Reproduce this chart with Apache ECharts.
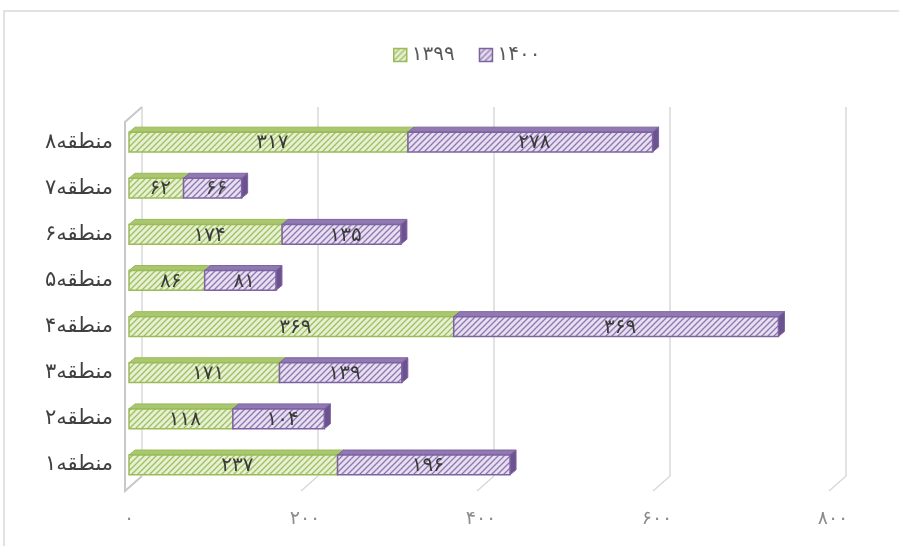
<!DOCTYPE html>
<html><head><meta charset="utf-8">
<script src="https://cdn.jsdelivr.net/npm/echarts@6/dist/echarts.min.js"></script>
<style>html,body{margin:0;padding:0;background:#fff}#c{width:899px;height:546px}</style>
</head><body><div id="c"></div>
<script>
const categories = ['منطقه۱','منطقه۲','منطقه۳','منطقه۴','منطقه۵','منطقه۶','منطقه۷','منطقه۸'];
const seriesNames = ['۱۳۹۹','۱۴۰۰'];
const values1399 = [237,118,171,369,86,174,62,317];
const values1400 = [196,104,139,369,81,135,66,278];
const axisMin = 0, axisMax = 800, axisInterval = 200;
const gridTicks = [0,200,400,600,800];

function fa(n){return String(n).replace(/\d/g,d=>'۰۱۲۳۴۵۶۷۸۹'[d]);}
function hatch(bg, line){
  const c=document.createElement('canvas'); c.width=6; c.height=6;
  const g=c.getContext('2d'); g.fillStyle=bg; g.fillRect(0,0,6,6);
  g.strokeStyle=line; g.lineWidth=1.3; g.beginPath();
  g.moveTo(-1,7); g.lineTo(7,-1); g.moveTo(-1,1); g.lineTo(1,-1); g.moveTo(5,7); g.lineTo(7,5);
  g.stroke(); return c;
}
const green = {pattern:hatch('#e6f0d2','#a0bf62'), border:'#9bbb59', top:'#a9c76f', side:'#86a54a'};
const purple = {pattern:hatch('#e6dff0','#8f76b2'), border:'#7e63a1', top:'#9078b2', side:'#6c528f'};

const DX=6, DY=5, BACKX=13, BACKY=12;

function makeBar(theme){
  return function(params, api){
    const s=api.value(0), e=api.value(1), i=api.value(2);
    const p0=api.coord([s,i]), p1=api.coord([e,i]);
    const h=api.size([0,1])[1]*0.43;
    const x0=p0[0], x1=p1[0], yT=p0[1]-h/2, yB=p0[1]+h/2;
    return {type:'group', children:[
      {type:'polygon', shape:{points:[[x0,yT],[x0+DX,yT-DY],[x1+DX,yT-DY],[x1,yT]]}, style:{fill:theme.top, stroke:theme.border, lineWidth:1}},
      {type:'polygon', shape:{points:[[x1,yT],[x1+DX,yT-DY],[x1+DX,yB-DY],[x1,yB]]}, style:{fill:theme.side, stroke:theme.border, lineWidth:1}},
      {type:'rect', shape:{x:x0,y:yT,width:x1-x0,height:h}, style:{fill:{image:theme.pattern, repeat:'repeat'}, stroke:theme.border, lineWidth:1.5}},
      {type:'text', style:{text:fa(e-s), x:(x0+x1)/2+4, y:p0[1]+1, align:'center', verticalAlign:'middle', fill:'#3a3a3a', fontSize:20, fontFamily:'DejaVu Sans'}}
    ]};
  };
}

function decor(params, api){
  const cs=params.coordSys;
  const yF=cs.y+cs.height+3, yB=yF-15;
  const children=[];
  gridTicks.forEach(t=>{
    const xb=api.coord([t,0])[0]+BACKX;
    if(t===axisMin){
      children.push({type:'polyline', shape:{points:[[xb,cs.y-BACKY],[xb-17,cs.y+3],[xb-17,yF],[xb,yB]]}, style:{stroke:'#c8c8c8', lineWidth:2, fill:null}});
    } else {
      children.push({type:'line', shape:{x1:xb-17,y1:yF,x2:xb,y2:yB}, style:{stroke:'#d9d9d9', lineWidth:1.5}});
    }
  });
  return {type:'group', children};
}

const chart=echarts.init(document.getElementById('c'));
chart.setOption({
  animation:false,
  graphic:[{type:'rect', shape:{x:4,y:11,width:1000,height:1000}, style:{fill:null, stroke:'#d9d9d9', lineWidth:1.5}, z:-10}],
  legend:{left:388, top:40, itemWidth:13, itemHeight:13, itemGap:24, icon:'rect',
    textStyle:{color:'#595959', fontSize:20, fontFamily:'DejaVu Sans'},
    data:[{name:seriesNames[0], itemStyle:{color:{image:green.pattern,repeat:'repeat'}, borderColor:green.border, borderWidth:1.5}},
          {name:seriesNames[1], itemStyle:{color:{image:purple.pattern,repeat:'repeat'}, borderColor:purple.border, borderWidth:1.5}}]},
  grid:[{left:129, right:66, top:119, bottom:58},
        {left:129+BACKX, right:66-BACKX, top:119-BACKY, bottom:58+BACKY}],
  xAxis:[{type:'value', gridIndex:0, min:axisMin, max:axisMax, interval:axisInterval,
          axisLine:{show:false}, axisTick:{show:false}, splitLine:{show:false},
          axisLabel:{formatter:v=>fa(v), color:'#8c8c8c', fontSize:19, margin:22, fontFamily:'DejaVu Sans'}},
         {type:'value', gridIndex:1, min:axisMin, max:axisMax, interval:axisInterval,
          axisLine:{show:false}, axisTick:{show:false}, axisLabel:{show:false},
          splitLine:{show:true, lineStyle:{color:'#d9d9d9', width:1.5}}}],
  yAxis:[{type:'category', gridIndex:0, data:categories, axisLine:{show:false}, axisTick:{show:false},
          axisLabel:{color:'#404040', fontSize:21, margin:16, fontFamily:'DejaVu Sans'}},
         {type:'category', gridIndex:1, data:categories, show:false}],
  series:[
    {type:'custom', name:'decor', xAxisIndex:0, yAxisIndex:0, renderItem:decor, data:[[0,0]], encode:{x:0,y:1}, silent:true, z:1},
    {type:'custom', name:seriesNames[0], xAxisIndex:0, yAxisIndex:0, renderItem:makeBar(green),
      data:values1399.map((v,i)=>[0,v,i]), encode:{x:[0,1], y:2}, z:2},
    {type:'custom', name:seriesNames[1], xAxisIndex:0, yAxisIndex:0, renderItem:makeBar(purple),
      data:values1400.map((v,i)=>[values1399[i], values1399[i]+v, i]), encode:{x:[0,1], y:2}, z:3}
  ]
});
</script></body></html>
